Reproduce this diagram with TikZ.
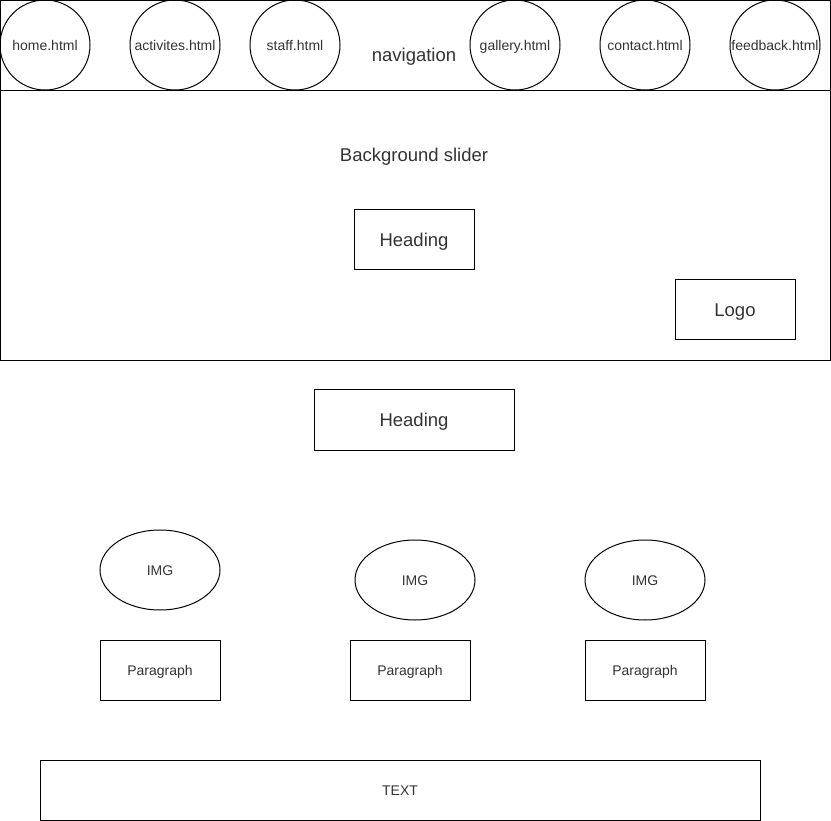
\documentclass[tikz,border=0pt]{standalone}
\usepackage{fontspec}
\setmainfont{Liberation Sans}
\usetikzlibrary{shapes.geometric}
\definecolor{txt}{HTML}{333333}
\tikzset{
  x=1pt, y=-1pt,
  smallfont/.style={text=txt, font=\fontsize{14}{16}\selectfont, text height=14.6pt, text depth=3pt},
  largefont/.style={text=txt, font=\fontsize{18.5}{21}\selectfont, text height=16pt, text depth=3.1pt},
  frame/.style={draw=black, line width=1pt, inner sep=0pt, outer sep=0pt, anchor=north west},
  navcircle/.style={draw=black, line width=1pt, circle, minimum size=90pt, inner sep=0pt, smallfont},
  imgell/.style={draw=black, line width=1pt, ellipse, minimum width=120pt, minimum height=80pt, inner sep=0pt, smallfont},
  smallbox/.style={draw=black, line width=1pt, rectangle, inner sep=0pt, smallfont},
  bigbox/.style={draw=black, line width=1pt, rectangle, inner sep=0pt, largefont},
  bigtext/.style={largefont, inner sep=0pt}
}
\begin{document}
\begin{tikzpicture}
\useasboundingbox (0,0) rectangle (831,821);
% navigation bar
\node[frame, minimum width=830pt, minimum height=90pt] (nav) at (0.5,0.5) {};
\node[bigtext] (navlbl) at (414,55) {navigation};
\node[navcircle] (home) at (45,45) {home.html};
\node[navcircle] (act) at (175,45) {activites.html};
\node[navcircle] (staff) at (295,45) {staff.html};
\node[navcircle] (gal) at (515,45) {gallery.html};
\node[navcircle] (cont) at (645,45) {contact.html};
\node[navcircle] (feed) at (775,45) {feedback.html};
% slider
\node[frame, minimum width=830pt, minimum height=270pt] (slider) at (0.5,90.5) {};
\node[bigtext] (sliderlbl) at (414,155) {Background slider};
\node[bigbox, minimum width=120pt, minimum height=60pt] (head1) at (414,240) {Heading};
\node[bigbox, minimum width=120pt, minimum height=60pt] (logo) at (735,310) {Logo};
% content
\node[bigbox, minimum width=200pt, minimum height=60pt] (head2) at (414,420) {Heading};
\node[imgell] (img1) at (160,570) {IMG};
\node[imgell] (img2) at (415,580) {IMG};
\node[imgell] (img3) at (645,580) {IMG};
\node[smallbox, minimum width=120pt, minimum height=60pt] (p1) at (160,670) {Paragraph};
\node[smallbox, minimum width=120pt, minimum height=60pt] (p2) at (410,670) {Paragraph};
\node[smallbox, minimum width=120pt, minimum height=60pt] (p3) at (645,670) {Paragraph};
\node[smallbox, minimum width=720pt, minimum height=60pt] (textbox) at (400,790) {TEXT};
\end{tikzpicture}
\end{document}
